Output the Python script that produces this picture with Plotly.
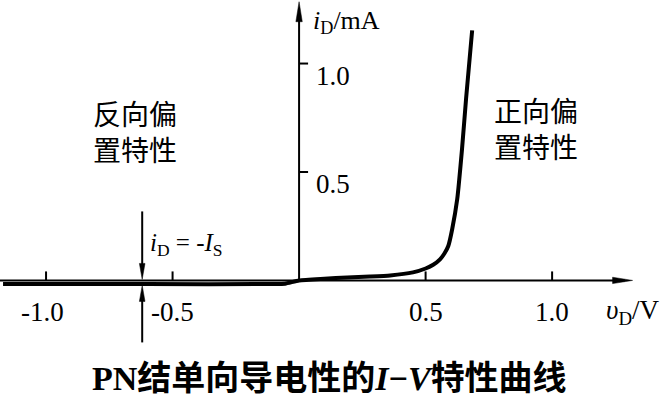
import plotly.graph_objects as go

# ---- data ----
v_curve = [-1.17, -0.6, -0.1, -0.055, 0.0, 0.1, 0.19, 0.28, 0.36, 0.45, 0.5, 0.53,
           0.557, 0.575, 0.59, 0.605, 0.625, 0.644, 0.66, 0.684]
i_curve = [-0.017, -0.017, -0.017, -0.015, 0.0, 0.008, 0.014, 0.018, 0.023, 0.037, 0.055, 0.072,
           0.097, 0.125, 0.16, 0.236, 0.375, 0.606, 0.838, 1.153]

x_ticks = [-1.0, -0.5, 0.5, 1.0]
x_tick_labels = ["-1.0", "-0.5", "0.5", "1.0"]
y_ticks = [0.5, 1.0]
y_tick_labels = ["0.5", "1.0"]

x_range = [-1.182, 1.458]
y_range = [-0.556, 1.293]
x_axis_end = 1.318
y_axis_end = 1.285
is_marker_v = -0.62

SERIF = "Liberation Serif, Times New Roman, serif"
CJK = "Noto Sans CJK SC, sans-serif"

fig = go.Figure()
fig.add_trace(go.Scatter(x=v_curve, y=i_curve, mode="lines",
                         line=dict(color="black", width=4, shape="spline", smoothing=0.5),
                         hoverinfo="skip", showlegend=False))

shapes = []
# axes
shapes.append(dict(type="line", xref="x", yref="y", x0=x_range[0], y0=0, x1=x_axis_end - 0.03, y1=0,
                   line=dict(color="black", width=2)))
shapes.append(dict(type="line", xref="x", yref="y", x0=0, y0=0, x1=0, y1=y_axis_end - 0.05,
                   line=dict(color="black", width=2)))
# arrowheads (pixel-sized, anchored at data positions)
shapes.append(dict(type="path", xref="x", yref="y", xsizemode="pixel", ysizemode="pixel",
                   xanchor=x_axis_end, yanchor=0, path="M0,0 L-20,3.2 L-20,-3.2 Z",
                   fillcolor="black", line=dict(color="black", width=0.5)))
shapes.append(dict(type="path", xref="x", yref="y", xsizemode="pixel", ysizemode="pixel",
                   xanchor=0, yanchor=y_axis_end, path="M0,0 L3.2,-20 L-3.2,-20 Z",
                   fillcolor="black", line=dict(color="black", width=0.5)))
# ticks
for t in x_ticks:
    shapes.append(dict(type="line", xref="x", yref="y", ysizemode="pixel", yanchor=0,
                       x0=t, x1=t, y0=0, y1=9, line=dict(color="black", width=2)))
for t in y_ticks:
    shapes.append(dict(type="line", xref="x", yref="y", xsizemode="pixel", xanchor=0,
                       x0=0, x1=9, y0=t, y1=t, line=dict(color="black", width=2)))
# i_D = -I_S marker arrows
shapes.append(dict(type="line", xref="x", yref="y", ysizemode="pixel", yanchor=0,
                   x0=is_marker_v, x1=is_marker_v, y0=14, y1=69, line=dict(color="black", width=2)))
shapes.append(dict(type="path", xref="x", yref="y", xsizemode="pixel", ysizemode="pixel",
                   xanchor=is_marker_v, yanchor=0, path="M0,1 L2.8,17 L-2.8,17 Z",
                   fillcolor="black", line=dict(color="black", width=0.5)))
shapes.append(dict(type="line", xref="x", yref="y", ysizemode="pixel", yanchor=0,
                   x0=is_marker_v, x1=is_marker_v, y0=-18, y1=-62, line=dict(color="black", width=2)))
shapes.append(dict(type="path", xref="x", yref="y", xsizemode="pixel", ysizemode="pixel",
                   xanchor=is_marker_v, yanchor=0, path="M0,-5 L2.8,-21 L-2.8,-21 Z",
                   fillcolor="black", line=dict(color="black", width=0.5)))

ann = []
for t, lab in zip(x_ticks, x_tick_labels):
    ann.append(dict(x=t, y=0, xref="x", yref="y", text=lab, showarrow=False,
                    xanchor="center", yanchor="middle", yshift=-32,
                    xshift=(-4 if t == -1.0 else 0),
                    font=dict(family=SERIF, size=27, color="black")))
for t, lab in zip(y_ticks, y_tick_labels):
    ann.append(dict(x=0, y=t, xref="x", yref="y", text=lab, showarrow=False,
                    xanchor="left", yanchor="middle", xshift=15, yshift=-12,
                    font=dict(family=SERIF, size=27, color="black")))
ann.append(dict(x=0, y=1.19, xref="x", yref="y", text="<i>i</i><sub>D</sub>/mA", showarrow=False,
                xanchor="left", yanchor="middle", xshift=12,
                font=dict(family=SERIF, size=26, color="black")))
ann.append(dict(x=1.205, y=0, xref="x", yref="y", text="<i>υ</i><sub>D</sub>/V", showarrow=False,
                xanchor="left", yanchor="middle", yshift=-32,
                font=dict(family=SERIF, size=27, color="black")))
ann.append(dict(x=is_marker_v, y=0.165, xref="x", yref="y",
                text="<i>i</i><sub>D</sub> = -<i>I</i><sub>S</sub>", showarrow=False,
                xanchor="left", yanchor="middle", xshift=6,
                font=dict(family=SERIF, size=25, color="black")))
ann.append(dict(x=-0.648, y=0.69, xref="x", yref="y", text="反向偏<br>置特性", showarrow=False,
                xanchor="center", yanchor="middle",
                font=dict(family=CJK, size=28, color="black")))
ann.append(dict(x=0.937, y=0.705, xref="x", yref="y", text="正向偏<br>置特性", showarrow=False,
                xanchor="center", yanchor="middle",
                font=dict(family=CJK, size=28, color="black")))
ann.append(dict(x=0.494, y=0.057, xref="paper", yref="paper",
                text="<b>PN结单向导电性的<i>I</i>−<i>V</i>特性曲线</b>", showarrow=False,
                xanchor="center", yanchor="middle",
                font=dict(family="Liberation Serif, Noto Sans CJK SC", size=34, color="black")))

fig.update_layout(
    width=668, height=401,
    margin=dict(l=0, r=0, t=0, b=0, pad=0),
    paper_bgcolor="white", plot_bgcolor="white",
    xaxis=dict(range=x_range, visible=False, fixedrange=True),
    yaxis=dict(range=y_range, visible=False, fixedrange=True),
    shapes=shapes, annotations=ann, showlegend=False,
)
fig.write_html("out.html", config={"displayModeBar": False},
               post_script="document.body.style.margin='0';document.body.style.overflow='hidden';")
